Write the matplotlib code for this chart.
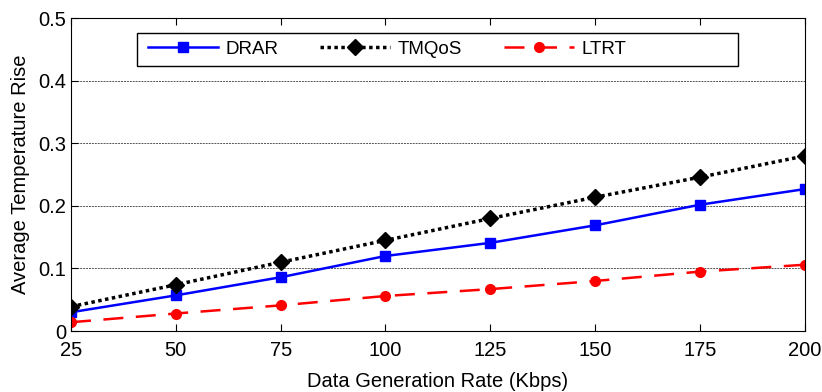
import matplotlib.pyplot as plt
from matplotlib.patches import Rectangle

rates = [25, 50, 75, 100, 125, 150, 175, 200]
drar = [0.030, 0.057, 0.086, 0.120, 0.141, 0.169, 0.202, 0.227]
tmqos = [0.039, 0.074, 0.110, 0.145, 0.180, 0.214, 0.246, 0.280]
ltrt = [0.014, 0.028, 0.041, 0.056, 0.067, 0.080, 0.095, 0.106]

plt.rcParams['font.family'] = ['Liberation Sans', 'DejaVu Sans']

fig = plt.figure(figsize=(8.22, 3.92), dpi=100)
ax = fig.add_axes([0.0864, 0.1556, 0.8926, 0.7974])

ax.plot(rates, drar, color='#0000ff', linestyle='-', linewidth=1.8,
        marker='s', markersize=7, label='DRAR')
ax.plot(rates, tmqos, color='black', linestyle=(0, (1, 1)), linewidth=2.5,
        marker='D', markersize=8, label='TMQoS')
ax.plot(rates, ltrt, color='#ff0000', linestyle=(0, (8, 5)), linewidth=1.8,
        marker='o', markersize=7, label='LTRT')

ax.set_xlim(25, 200)
ax.set_ylim(0, 0.5)
ax.set_xticks(rates)
ax.set_yticks([0, 0.1, 0.2, 0.3, 0.4, 0.5])
ax.set_yticklabels(['0', '0.1', '0.2', '0.3', '0.4', '0.5'])
ax.tick_params(direction='in', top=True, right=False, labelsize=14.5, length=5)
ax.tick_params(axis='x', pad=7)
ax.yaxis.grid(True, linestyle=(0, (2, 1)), color='#555555', linewidth=0.7)
ax.set_axisbelow(True)

ax.set_xlabel('Data Generation Rate (Kbps)', fontsize=14.5, labelpad=9)
ax.set_ylabel('Average Temperature Rise', fontsize=14.5, labelpad=6)

# MATLAB-style legend box with extra room on the right
box = Rectangle((0.09, 0.848), 0.819, 0.106, transform=ax.transAxes,
                facecolor='white', edgecolor='black', linewidth=1.0, zorder=4)
ax.add_patch(box)
leg = ax.legend(loc='center left', bbox_to_anchor=(0.105, 0.901), ncol=3,
                fontsize=13.5, frameon=False, borderpad=0, borderaxespad=0,
                handlelength=3.75, columnspacing=2.2, handletextpad=0.4)
leg.set_zorder(5)

fig.savefig('out.png', dpi=100)
